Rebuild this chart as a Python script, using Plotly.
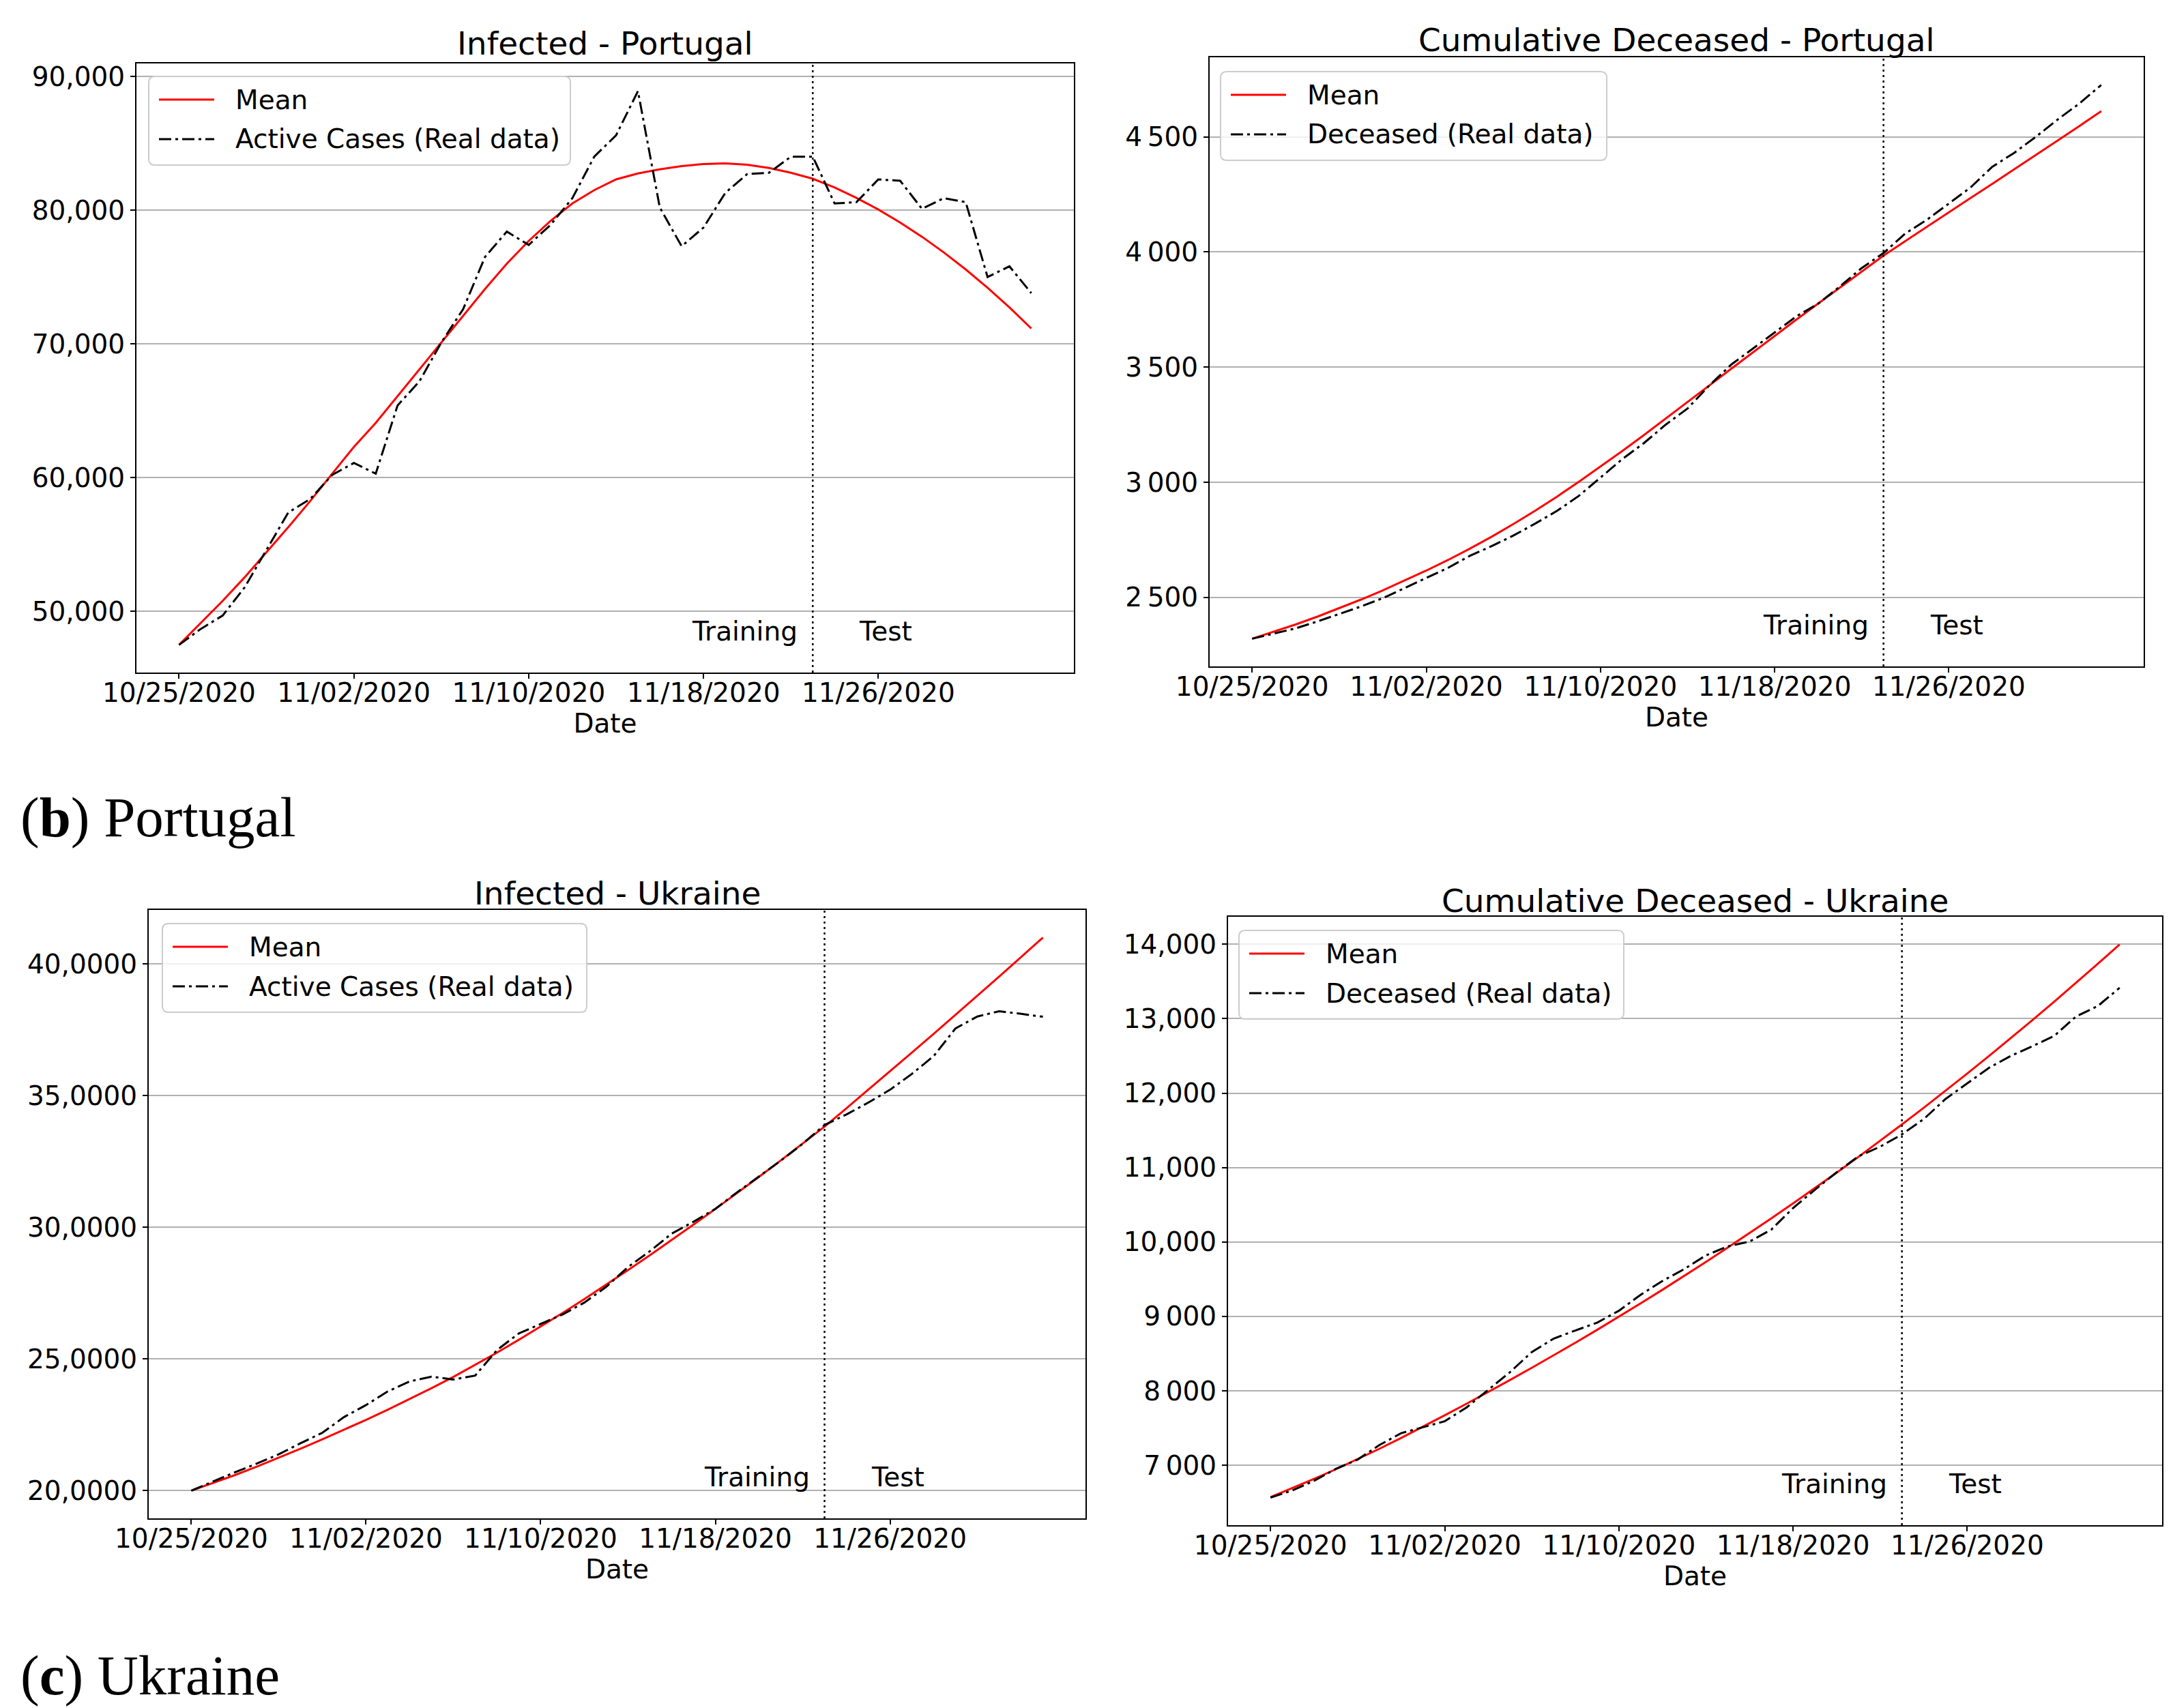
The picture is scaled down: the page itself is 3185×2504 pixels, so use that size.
import pandas as pd
import plotly.graph_objects as go

# ---------------- data ----------------
dates = pd.date_range("2020-10-25", periods=40, freq="D")
split_date = "2020-11-23"
x_ticks = ["2020-10-25", "2020-11-02", "2020-11-10", "2020-11-18", "2020-11-26"]

pt_inf_real = [47500, 48700, 49700, 51800, 54600, 57400, 58400, 60200, 61100, 60300,
               65400, 67200, 70100, 72600, 76500, 78400, 77400, 78900, 80900, 84000,
               85600, 88900, 80200, 77300, 78700, 81300, 82700, 82800, 84000, 84000,
               80500, 80600, 82300, 82200, 80100, 80900, 80600, 75000, 75800, 73800]
pt_inf_mean = [47500, 49150, 50800, 52550, 54400, 56300, 58250, 60300, 62300, 64100,
               66100, 68100, 70100, 72100, 74100, 76000, 77700, 79200, 80500, 81500,
               82300, 82750, 83050, 83300, 83450, 83500, 83400, 83150, 82800, 82350,
               81690, 80920, 80050, 79080, 78010, 76840, 75570, 74200, 72730, 71160]

pt_dec_real = [2320, 2342, 2365, 2395, 2428, 2460, 2496, 2540, 2585, 2628,
               2680, 2722, 2768, 2820, 2875, 2940, 3020, 3100, 3170, 3250,
               3320, 3420, 3510, 3580, 3650, 3720, 3775, 3850, 3930, 3995,
               4080, 4140, 4210, 4280, 4370, 4430, 4500, 4575, 4645, 4725]
pt_dec_mean = [2320, 2350, 2382, 2416, 2452, 2490, 2530, 2572, 2616, 2662,
               2711, 2763, 2818, 2876, 2937, 3001, 3067, 3135, 3205, 3276,
               3348, 3420, 3492, 3564, 3635, 3706, 3776, 3846, 3915, 3984,
               4047, 4110, 4172, 4234, 4296, 4358, 4420, 4484, 4547, 4611]

ua_inf_real = [200000, 203600, 207000, 210300, 213800, 218000, 222000, 228000, 232500, 237700,
               241500, 243300, 242200, 243700, 253400, 259700, 263200, 266900, 271400, 277400,
               284900, 290900, 297600, 302100, 307000, 313300, 319300, 325300, 331700, 338800,
               342800, 347300, 352200, 358200, 365000, 375500, 380000, 382000, 381000, 379900]
ua_inf_mean = [200000, 202900, 205950, 209150, 212500, 215950, 219500, 223150, 226900, 230750,
               234750, 238900, 243200, 247700, 252400, 257300, 262300, 267450, 272750, 278200,
               283750, 289400, 295150, 301000, 306950, 313000, 319150, 325400, 331750, 338200,
               345150, 352150, 359200, 366300, 373450, 380650, 387900, 395200, 402550, 409950]

ua_dec_real = [6565, 6660, 6790, 6950, 7075, 7270, 7430, 7510, 7590, 7775,
               8015, 8250, 8520, 8700, 8810, 8915, 9075, 9290, 9475, 9635,
               9820, 9940, 10005, 10165, 10455, 10700, 10935, 11150, 11280, 11445,
               11650, 11920, 12130, 12340, 12500, 12630, 12770, 13030, 13170, 13415]
ua_dec_mean = [6570, 6690, 6815, 6945, 7080, 7220, 7365, 7515, 7670, 7825,
               7983, 8144, 8308, 8475, 8645, 8818, 8994, 9174, 9357, 9543,
               9732, 9924, 10119, 10317, 10518, 10722, 10930, 11142, 11358, 11578,
               11802, 12030, 12262, 12498, 12738, 12982, 13230, 13482, 13738, 13998]

pt_inf_ticks = [50000, 60000, 70000, 80000, 90000]
pt_inf_ticktext = ["50,000", "60,000", "70,000", "80,000", "90,000"]
pt_dec_ticks = [2500, 3000, 3500, 4000, 4500]
pt_dec_ticktext = ["2\u2009500", "3\u2009000", "3\u2009500", "4\u2009000", "4\u2009500"]
ua_inf_ticks = [200000, 250000, 300000, 350000, 400000]
ua_inf_ticktext = ["20,0000", "25,0000", "30,0000", "35,0000", "40,0000"]
ua_dec_ticks = [7000, 8000, 9000, 10000, 11000, 12000, 13000, 14000]
ua_dec_ticktext = ["7\u2009000", "8\u2009000", "9\u2009000", "10,000", "11,000",
                   "12,000", "13,000", "14,000"]

titles = ["Infected - Portugal", "Cumulative Deceased - Portugal",
          "Infected - Ukraine", "Cumulative Deceased - Ukraine"]
mean_name = "Mean"
real_names = ["Active Cases (Real data)", "Deceased (Real data)",
              "Active Cases (Real data)", "Deceased (Real data)"]
captions = ["(<b>b</b>) Portugal", "(<b>c</b>) Ukraine"]

# ---------------- layout geometry (pixels) ----------------
W, H = 3185, 2504
FONT = "DejaVu Sans"
RED = "#ff0000"
DASHDOT = "18px,6px,4px,6px"
panels = [
    dict(x0=192, x1=1566, top=85, bot=978, ty=56, lx0=210, lx1=828, ly=104),
    dict(x0=1765, x1=3134, top=76, bot=969, ty=50, lx0=1781, lx1=2347, ly=97),
    dict(x0=210, x1=1583, top=1326, bot=2218, ty=1301, lx0=230, lx1=852, ly=1346),
    dict(x0=1792, x1=3161, top=1336, bot=2228, ty=1312, lx0=1808, lx1=2372, ly=1356),
]
series = [
    (pt_inf_mean, pt_inf_real, pt_inf_ticks, pt_inf_ticktext),
    (pt_dec_mean, pt_dec_real, pt_dec_ticks, pt_dec_ticktext),
    (ua_inf_mean, ua_inf_real, ua_inf_ticks, ua_inf_ticktext),
    (ua_dec_mean, ua_dec_real, ua_dec_ticks, ua_dec_ticktext),
]


def fx(px):
    return px / W


def fy(py):
    return 1 - py / H


def rounded_rect(x0, y0, x1, y1, r=9):
    pts = [
        ("M", fx(x0 + r), fy(y0)), ("L", fx(x1 - r), fy(y0)),
        ("Q", fx(x1), fy(y0), fx(x1), fy(y0 + r)), ("L", fx(x1), fy(y1 - r)),
        ("Q", fx(x1), fy(y1), fx(x1 - r), fy(y1)), ("L", fx(x0 + r), fy(y1)),
        ("Q", fx(x0), fy(y1), fx(x0), fy(y1 - r)), ("L", fx(x0), fy(y0 + r)),
        ("Q", fx(x0), fy(y0), fx(x0 + r), fy(y0)),
    ]
    s = ""
    for p in pts:
        cmd = p[0]
        nums = p[1:]
        s += cmd + " " + " ".join(
            f"{nums[i]:.6f},{nums[i + 1]:.6f}" for i in range(0, len(nums), 2)) + " "
    return s + "Z"


fig = go.Figure()
span = dates[-1] - dates[0]
xr = [(dates[0] - 0.05 * span).strftime("%Y-%m-%d %H:%M"),
      (dates[-1] + 0.05 * span).strftime("%Y-%m-%d %H:%M")]

annotations = []
shapes = []
for k, (p, (mean, real, tv, tt)) in enumerate(zip(panels, series)):
    n = "" if k == 0 else str(k + 1)
    xa, ya = "x" + n, "y" + n
    fig.add_trace(go.Scatter(x=dates, y=mean, mode="lines", name=mean_name,
                             line=dict(color=RED, width=3),
                             xaxis=xa, yaxis=ya, showlegend=False))
    fig.add_trace(go.Scatter(x=dates, y=real, mode="lines", name=real_names[k],
                             line=dict(color="#000000", width=3, dash=DASHDOT),
                             xaxis=xa, yaxis=ya, showlegend=False))
    allv = list(mean) + list(real)
    lo, hi = min(allv), max(allv)
    pad = 0.05 * (hi - lo)
    axis_common = dict(showline=True, linecolor="black", linewidth=2, mirror=True,
                       ticks="outside", ticklen=7, tickwidth=1.6, tickcolor="black",
                       tickfont=dict(family=FONT, size=39, color="black"), zeroline=False,
                       automargin=False)
    fig.update_layout({
        "xaxis" + n: dict(domain=[fx(p["x0"]), fx(p["x1"])], anchor=ya, type="date",
                          range=xr, tickmode="array", tickvals=x_ticks,
                          tickformat="%m/%d/%Y", showgrid=False, ticklabelstandoff=-13,
                          title=dict(text="Date", font=dict(family=FONT, size=39, color="black"),
                                     standoff=8),
                          **axis_common),
        "yaxis" + n: dict(domain=[fy(p["bot"]), fy(p["top"])], anchor=xa,
                          range=[lo - pad, hi + pad], tickmode="array", tickvals=tv, ticktext=tt,
                          showgrid=True, gridcolor="#b0b0b0", gridwidth=1.6,
                          **axis_common),
    })
    # split line
    shapes.append(dict(type="line", xref=xa, yref=ya + " domain", x0=split_date, x1=split_date,
                       y0=0, y1=1, line=dict(color="black", width=2.5, dash="3px,5px")))
    annotations.append(dict(text="Training", xref=xa, yref=ya + " domain", x=split_date, y=0.068,
                            xanchor="right", yanchor="middle", xshift=-20, showarrow=False,
                            font=dict(family=FONT, size=39, color="black")))
    annotations.append(dict(text="Test", xref=xa, yref=ya + " domain", x=split_date, y=0.068,
                            xanchor="left", yanchor="middle", xshift=66, showarrow=False,
                            font=dict(family=FONT, size=39, color="black")))
    annotations.append(dict(text=titles[k], xref="paper", yref="paper",
                            x=fx((p["x0"] + p["x1"]) / 2), y=fy(p["ty"]),
                            xanchor="center", yanchor="middle", showarrow=False,
                            font=dict(family=FONT, size=47, color="black")))
    # legend (matplotlib-style box with long handles)
    lx0, lx1, ly = p["lx0"], p["lx1"], p["ly"]
    shapes.append(dict(type="path", xref="paper", yref="paper",
                       path=rounded_rect(lx0, ly, lx1, ly + 130),
                       fillcolor="rgba(255,255,255,0.8)", line=dict(color="#cccccc", width=2)))
    for row, (name, color, dash) in enumerate([(mean_name, RED, "solid"),
                                               (real_names[k], "#000000", DASHDOT)]):
        yy = ly + 34 + 58 * row
        shapes.append(dict(type="line", xref="paper", yref="paper",
                           x0=fx(lx0 + 15), x1=fx(lx0 + 96), y0=fy(yy), y1=fy(yy),
                           line=dict(color=color, width=3, dash=dash)))
        annotations.append(dict(text=name, xref="paper", yref="paper",
                                x=fx(lx0 + 125), y=fy(yy), xanchor="left", yanchor="middle",
                                showarrow=False,
                                font=dict(family=FONT, size=39, color="black")))

annotations.append(dict(text=captions[0], xref="paper", yref="paper", x=fx(20), y=fy(1190),
                        xanchor="left", yanchor="middle", showarrow=False,
                        font=dict(family="Liberation Serif", size=83, color="black")))
annotations.append(dict(text=captions[1], xref="paper", yref="paper", x=fx(20), y=fy(2448),
                        xanchor="left", yanchor="middle", showarrow=False,
                        font=dict(family="Liberation Serif", size=83, color="black")))

fig.update_layout(width=W, height=H, margin=dict(l=0, r=0, t=0, b=0, autoexpand=False),
                  paper_bgcolor="white", plot_bgcolor="white",
                  annotations=annotations, shapes=shapes, showlegend=False,
                  font=dict(family=FONT, color="black"))

fig.write_html("out.html")
